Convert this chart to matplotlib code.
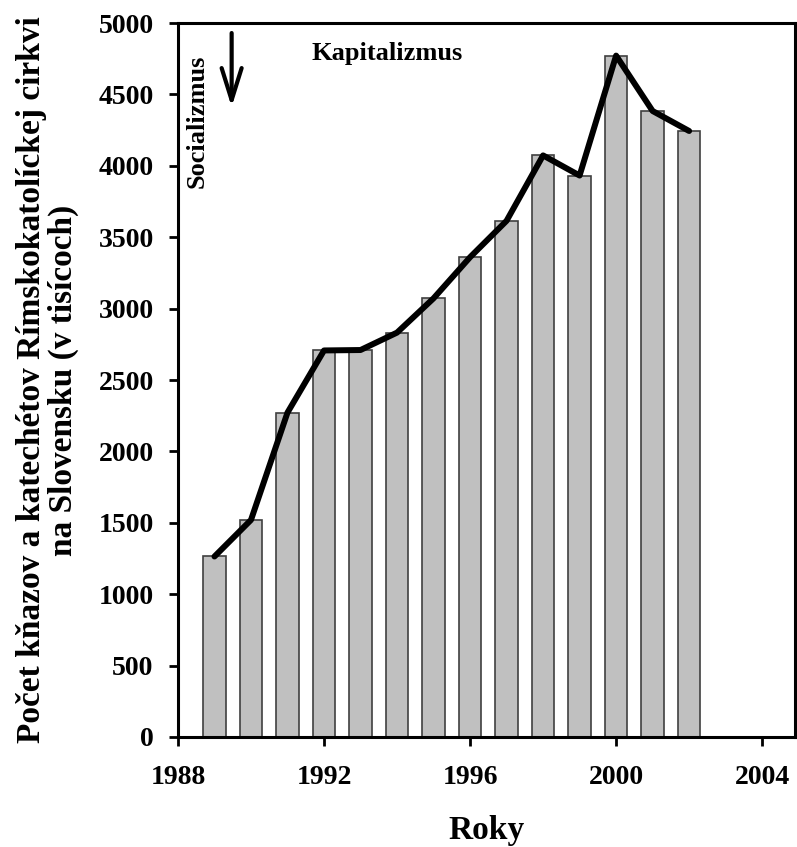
import matplotlib
matplotlib.use("Agg")
import matplotlib.pyplot as plt

years = [1989, 1990, 1991, 1992, 1993, 1994, 1995, 1996, 1997, 1998, 1999, 2000, 2001, 2002]
values = [1264, 1520, 2272, 2707, 2710, 2832, 3072, 3360, 3615, 4073, 3932, 4772, 4384, 4244]
xticks = [1988, 1992, 1996, 2000, 2004]
yticks = [0, 500, 1000, 1500, 2000, 2500, 3000, 3500, 4000, 4500, 5000]

plt.rcParams['font.family'] = ['Liberation Serif', 'DejaVu Serif']
plt.rcParams['font.weight'] = 'bold'

fig = plt.figure(figsize=(7.97, 8.47), dpi=100)
ax = fig.add_axes([0.2233, 0.1299, 0.7742, 0.8429])

ax.bar(years, values, width=0.61, color='#c0c0c0', edgecolor='#404040', linewidth=1.2, zorder=2)
ax.plot(years, values, color='black', linewidth=4.3, zorder=3, solid_joinstyle='round', solid_capstyle='round')

ax.set_xlim(1988, 2004.9)
ax.set_ylim(0, 5000)
ax.set_xticks(xticks)
ax.set_yticks(yticks)
ax.tick_params(direction='out', length=6.5, width=2, labelsize=20)
ax.tick_params(axis='x', pad=14)
ax.tick_params(axis='y', pad=11)
for lab in ax.get_xticklabels() + ax.get_yticklabels():
    lab.set_fontweight('bold')
for s in ax.spines.values():
    s.set_linewidth(2.2)

ax.set_xlabel('Roky', fontsize=24, fontweight='bold', labelpad=18)
ax.set_ylabel('Počet kňazov a katechétov Rímskokatolíckej cirkvi\nna Slovensku (v tisícoch)',
              fontsize=24, fontweight='bold', labelpad=14, linespacing=1.05)

ax.text(1991.65, 4790, 'Kapitalizmus', fontsize=19, fontweight='bold', ha='left', va='center')
ax.text(1988.52, 3845, 'Socializmus', fontsize=19, fontweight='bold', rotation=90, ha='center', va='bottom')
ax.annotate('', xy=(1989.47, 4412), xytext=(1989.47, 4930),
            arrowprops=dict(arrowstyle='->, head_length=1.15, head_width=0.36', lw=3, color='black',
                            mutation_scale=20, shrinkA=0, shrinkB=0))

fig.savefig('out.png', dpi=100)
